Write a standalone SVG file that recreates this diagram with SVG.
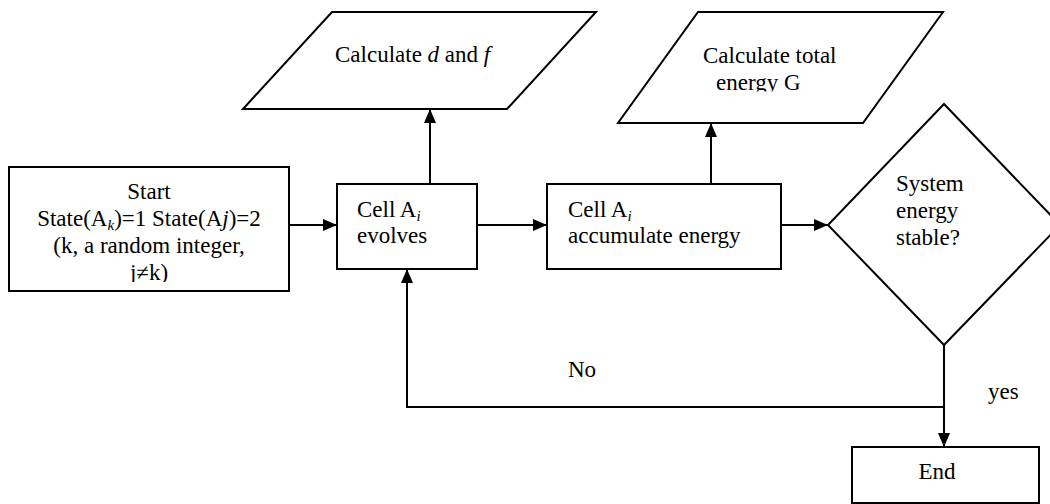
<svg xmlns="http://www.w3.org/2000/svg" width="1050" height="504" viewBox="0 0 1050 504">
<style>
.s{fill:#fff;stroke:#000;stroke-width:2}
.c{fill:none;stroke:#000;stroke-width:2;marker-end:url(#ah)}
.t{font-size:23px;fill:#000}
.m{text-anchor:middle}
.i{font-style:italic}
.sub{font-size:15px;font-style:italic}
</style>
<defs>
<marker id="ah" markerUnits="userSpaceOnUse" markerWidth="14" markerHeight="12" refX="14" refY="6" orient="auto">
<path d="M0,0 L14,6 L0,12 z" fill="#000"/>
</marker>
<clipPath id="clipStart"><rect x="9" y="167" width="280" height="115"/></clipPath>
<clipPath id="clipP2"><rect x="618" y="12" width="245" height="79.5"/></clipPath>
</defs>
<rect width="1050" height="504" fill="#fff"/>
<g id="connectors">
<path class="c" d="M289,225 H337"/>
<path class="c" d="M477,225 H547"/>
<path class="c" d="M781,225 H828"/>
<path class="c" d="M430,184 V109"/>
<path class="c" d="M711,184 V123"/>
<path class="c" d="M944,345 V447"/>
<path class="c" d="M944,407 H407 V269"/>
</g>
<g id="start">
<rect class="s" x="9" y="167" width="280" height="124"/>
<g clip-path="url(#clipStart)">
<text class="t m" style="font-family:'Times New Roman','Liberation Serif',serif" x="149" y="199">Start</text>
<text class="t m" style="font-family:'Times New Roman','Liberation Serif',serif" x="149" y="226">State(A<tspan class="sub" dy="4">k</tspan><tspan dy="-4">)=1 State(A</tspan><tspan class="i">j</tspan>)=2</text>
<text class="t m" style="font-family:'Times New Roman','Liberation Serif',serif" x="149" y="253">(k, a random integer,</text>
<text class="t m" style="font-family:'Times New Roman','Liberation Serif',serif" x="149" y="280">j≠k)</text>
</g>
</g>
<g id="calc-df">
<polygon class="s" points="332,12 596,12 507,109 243,109"/>
<text class="t" style="font-family:'Liberation Serif'" x="335" y="62">Calculate <tspan class="i">d</tspan> and <tspan class="i">f</tspan></text>
</g>
<g id="cell-evolves">
<rect class="s" x="337" y="184" width="140" height="85"/>
<text class="t" style="font-family:'Liberation Serif'" x="357" y="217">Cell A<tspan class="sub" dy="4">i</tspan></text>
<text class="t" style="font-family:'Liberation Serif'" x="357" y="243">evolves</text>
</g>
<g id="cell-accumulate">
<rect class="s" x="547" y="184" width="234" height="85"/>
<text class="t" style="font-family:serif" x="568" y="217">Cell A<tspan class="sub" dy="4">i</tspan></text>
<text class="t" style="font-family:serif" x="568" y="243">accumulate energy</text>
</g>
<g id="calc-g">
<polygon class="s" points="698,12 943,12 863,123 618,123"/>
<g clip-path="url(#clipP2)">
<text class="t" style="font-family:'Liberation Serif',serif" x="703" y="63">Calculate total</text>
<text class="t" style="font-family:'Liberation Serif',serif" x="716" y="90">energy G</text>
</g>
</g>
<g id="decision">
<polygon class="s" points="944,104 1060,225 944,345 828,225"/>
<text class="t" style="font-family:'Liberation Serif',serif" x="896" y="191">System</text>
<text class="t" style="font-family:'Liberation Serif',serif" x="896" y="218">energy</text>
<text class="t" style="font-family:'Liberation Serif',serif" x="896" y="245">stable?</text>
</g>
<g id="end">
<rect class="s" x="852" y="447" width="187" height="56"/>
<text class="t m" style="font-family:'Liberation Serif',serif" x="937" y="479">End</text>
</g>
<g id="labels">
<text class="t" style="font-family:'Liberation Serif',serif" x="568" y="377">No</text>
<text class="t" style="font-family:'Liberation Serif',serif" x="988" y="399">yes</text>
</g>
</svg>
